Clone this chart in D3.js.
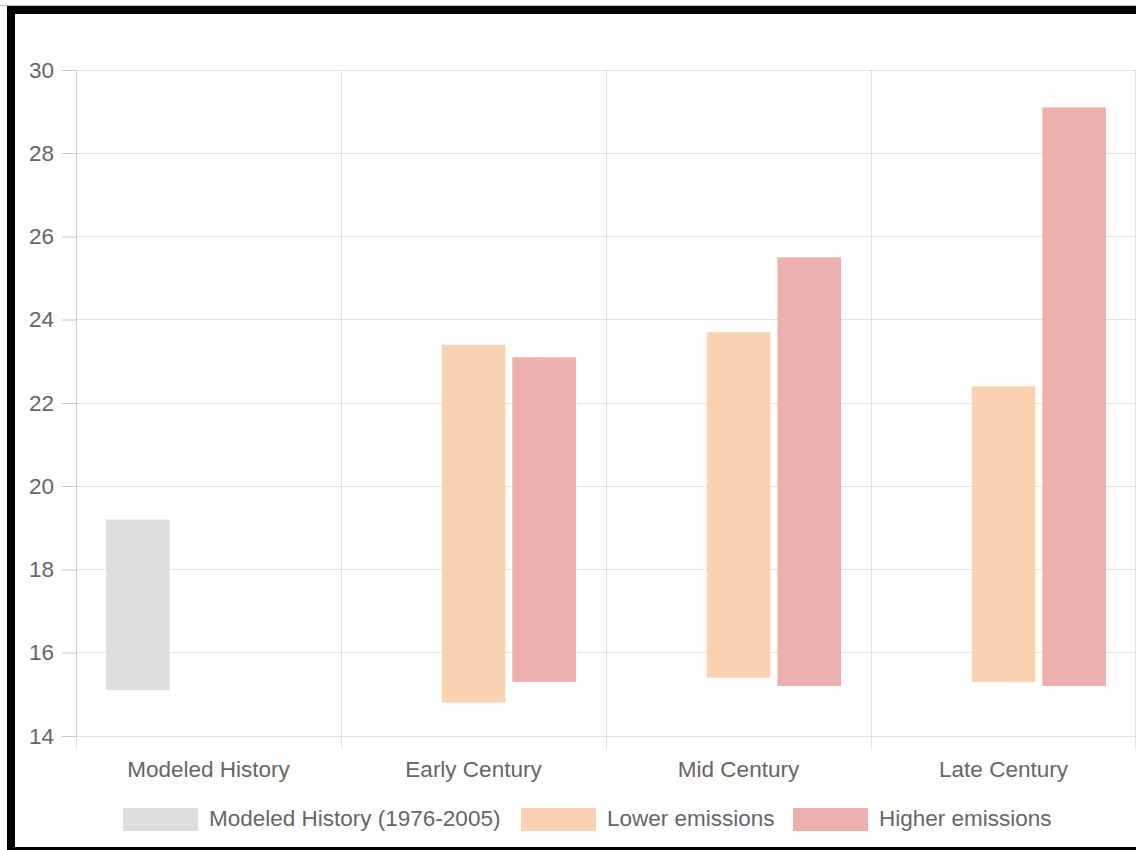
<!DOCTYPE html>
<meta charset="utf-8">
<script src="https://cdn.jsdelivr.net/npm/d3@7"></script>
<style>
    body { margin: 0; background: #fff; }
    text { font-family: "Liberation Sans", Arial, sans-serif; fill: #666; }
    .axis path, .axis line { fill: none; stroke: rgba(0,0,0,0.12); shape-rendering: crispEdges; }
    .grid line { stroke: rgba(0,0,0,0.1); shape-rendering: crispEdges; }
</style>
<body>
<div id="chart"></div>
<script>

    // categories / series / ticks
    var categories = ["Modeled History", "Early Century", "Mid Century", "Late Century"]
    var seriesNames = ["Modeled History (1976-2005)", "Lower emissions", "Higher emissions"]
    var colors = ["#dcdddf", "#fbd3b2", "#eeafaf"]

    // floating bars: [low, high] per category
    var historyRange = [[15.1, 19.2], null, null, null]
    var lowerRange = [null, [14.8, 23.4], [15.4, 23.7], [15.3, 22.4]]
    var higherRange = [null, [15.3, 23.1], [15.2, 25.5], [15.2, 29.1]]
    var yTicks = [14, 16, 18, 20, 22, 24, 26, 28, 30]

    var W = 1136, H = 850
    var pLeft = 76, pRight = 1136, pTop = 70, pBottom = 736
    var fontSize = "22.5px"

    var svg = d3.select("#chart").append("svg").attr("width", W).attr("height", H)

    var y = d3.scaleLinear().domain([14, 30]).range([pBottom, pTop])
    var x0 = d3.scaleBand().domain(categories).range([pLeft, pRight]).padding(0)
    var bw = x0.bandwidth()
    var x1 = d3.scaleBand().domain(seriesNames).range([bw * 0.1, bw * 0.9]).paddingInner(0.1).paddingOuter(0.05)

    // horizontal grid
    svg.append("g").attr("class", "grid").selectAll("line").data(yTicks).enter().append("line")
        .attr("x1", pLeft - 14).attr("x2", pRight).attr("y1", (d)=>{return y(d)}).attr("y2", (d)=>{return y(d)})

    // vertical grid at category boundaries
    var bounds = categories.map((c)=>{return x0(c)}).concat([pRight - 0.5])
    svg.append("g").attr("class", "grid").selectAll("line").data(bounds).enter().append("line")
        .attr("x1", (d)=>{return d}).attr("x2", (d)=>{return d}).attr("y1", pTop).attr("y2", pBottom + 14)

    // y axis
    var yAxis = svg.append("g").attr("class", "axis").attr("transform", "translate(" + pLeft + ",0)")
        .call(d3.axisLeft(y).tickValues(yTicks).tickSize(14).tickSizeOuter(0).tickPadding(8))
    yAxis.selectAll("text").style("font-size", fontSize)

    // x axis labels
    var xAxis = svg.append("g").attr("class", "axis").attr("transform", "translate(0," + pBottom + ")")
        .call(d3.axisBottom(x0).tickSize(0).tickPadding(25))
    xAxis.selectAll("text").style("font-size", fontSize)
    xAxis.select(".domain").remove()

    // bars
    var seriesData = [historyRange, lowerRange, higherRange]
    seriesData.forEach((ranges, i)=>{
        var rows = categories.map((c, j)=>{return {cat: c, r: ranges[j]}}).filter((d)=>{return d.r})
        svg.append("g").selectAll("rect").data(rows).enter().append("rect")
            .attr("x", (d)=>{return x0(d.cat) + x1(seriesNames[i])})
            .attr("width", x1.bandwidth())
            .attr("y", (d)=>{return y(d.r[1])})
            .attr("height", (d)=>{return y(d.r[0]) - y(d.r[1])})
            .style("fill", colors[i])
    })

    // legend
    var legendX = [123, 521, 793]
    seriesNames.forEach((name, i)=>{
        svg.append("rect").attr("x", legendX[i]).attr("y", 808).attr("width", 75).attr("height", 23).style("fill", colors[i])
        svg.append("text").attr("x", legendX[i] + 86).attr("y", 826).text(name).style("font-size", fontSize)
    })

    // screenshot frame
    svg.append("line").attr("x1", 0).attr("x2", W).attr("y1", 5.5).attr("y2", 5.5).style("stroke", "#bbb")
    svg.append("rect").attr("x", 11).attr("y", 10).attr("width", W + 20).attr("height", 841)
        .style("fill", "none").style("stroke", "#000").style("stroke-width", 8)

</script>
</body>
